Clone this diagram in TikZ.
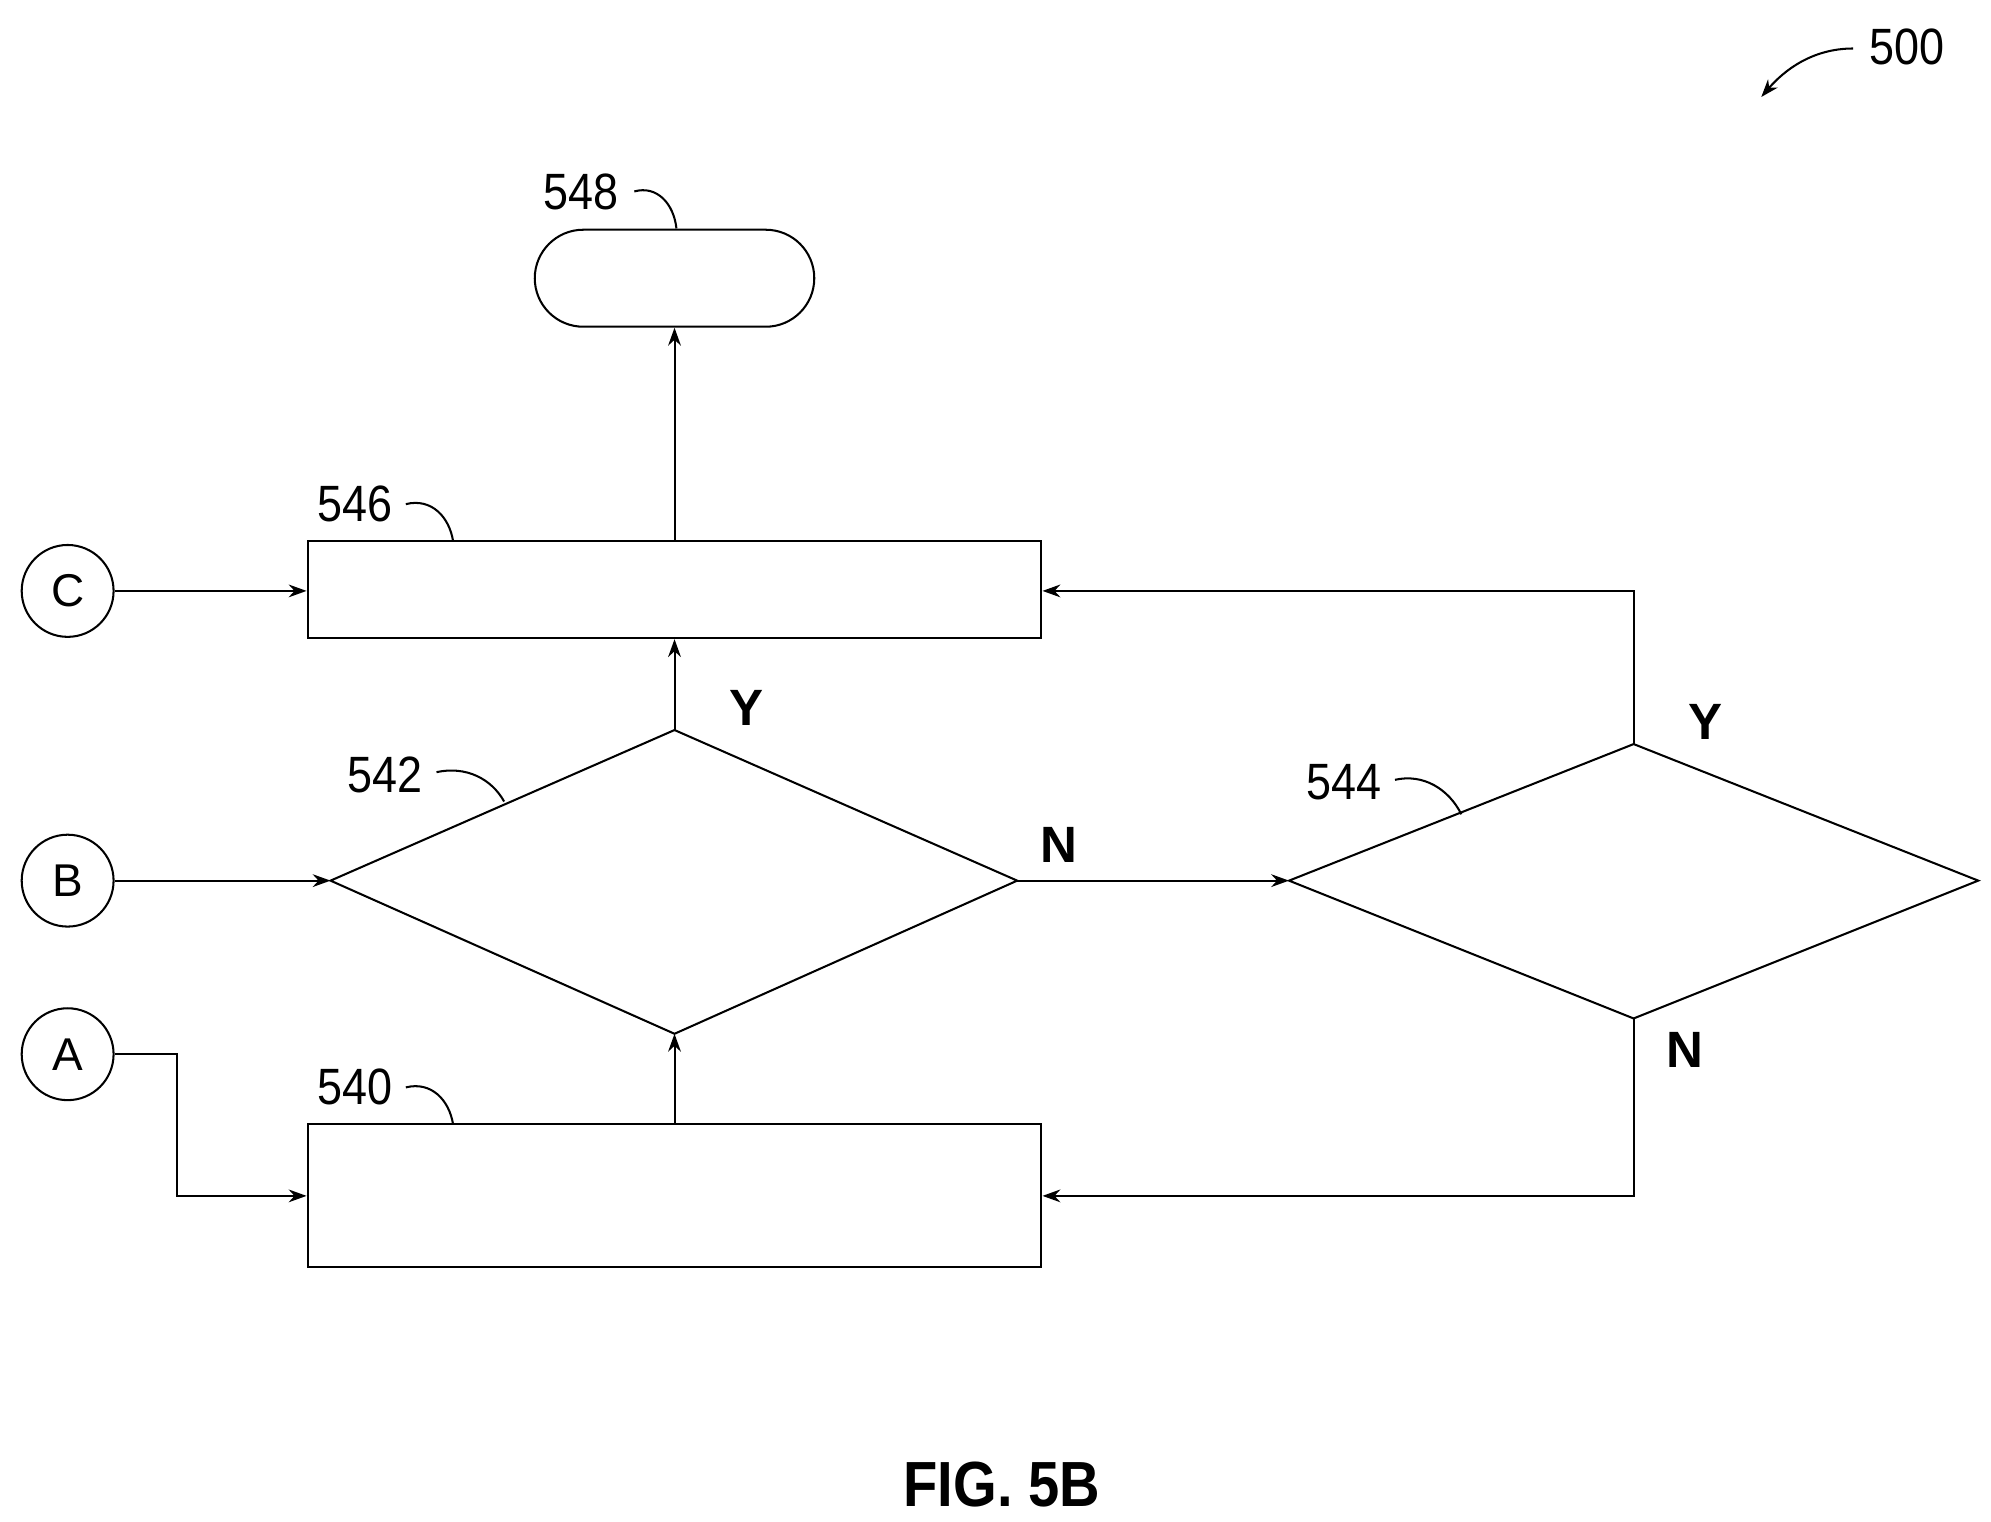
\documentclass[tikz,border=0pt]{standalone}
\usepackage{fontspec}
\setmainfont{Liberation Sans}
\usetikzlibrary{arrows.meta,shapes.geometric}
\begin{document}
\begin{tikzpicture}[x=1pt,y=-1pt,
  every path/.style={line width=1.6pt},
  ln/.style={draw,line width=1.6pt},
  arr/.style={line width=1.6pt,-{Stealth[length=14pt,width=10pt]}},
  lbl/.style={font=\fontsize{40}{40}\selectfont,xscale=0.88},
  yn/.style={font=\fontsize{40}{40}\selectfont\bfseries},
  circ/.style={draw,circle,minimum size=72pt,inner sep=0pt,font=\fontsize{36}{36}\selectfont,line width=1.6pt}]
\useasboundingbox (0,0) rectangle (1560,1192.5);
\node[draw,rounded corners=38pt,minimum width=219pt,minimum height=76pt,line width=1.6pt] (t548) at (528.5,218) {};
\node[draw,minimum width=575pt,minimum height=76pt,line width=1.6pt] (r546) at (528.5,462) {};
\node[draw,minimum width=575pt,minimum height=112pt,line width=1.6pt] (r540) at (528.5,937) {};
\coordinate (d2l) at (259,690); \coordinate (d2t) at (528.5,572);
\coordinate (d2r) at (797,690); \coordinate (d2b) at (528.5,810);
\draw (d2l)--(d2t)--(d2r)--(d2b)--cycle;
\coordinate (d4l) at (1010,690); \coordinate (d4t) at (1280,583);
\coordinate (d4r) at (1550,690); \coordinate (d4b) at (1280,798);
\draw (d4l)--(d4t)--(d4r)--(d4b)--cycle;
\node[circ] (C) at (53,463) {C};
\node[circ] (B) at (53,690) {B};
\node[circ] (A) at (53,826) {A};
\draw[arr] (C) -- (r546.west|-C);
\draw[arr] (B) -- (d2l);
\draw[arr] (A.east) -- (139,826) -- (139,937) -- (r540.west);
\draw[arr] (r540.north) -- (d2b);
\draw[arr] (d2t) -- (r546.south);
\draw[arr] (r546.north) -- (t548.south);
\draw[arr] (d2r) -- (d4l);
\draw[arr] (d4t) -- (1280,463) -- (r546.east|-C);
\draw[arr] (d4b) -- (1280,937) -- (r540.east);
\node[yn] (y1) at (585,555) {Y};
\node[yn] (n1) at (830,662) {N};
\node[yn] (y2) at (1336,566) {Y};
\node[yn] (n2) at (1320,823) {N};
\node[lbl] (l548) at (455,150) {548};
\draw (497,150) .. controls (515,145) and (528,160) .. (530,179);
\node[lbl] (l546) at (278,395) {546};
\draw (318,395) .. controls (338,390) and (352,405) .. (355,424);
\node[lbl] (l542) at (302,607) {542};
\draw (342,605) .. controls (365,600) and (385,610) .. (395,628);
\node[lbl] (l544) at (1053,613) {544};
\draw (1093,611) .. controls (1115,606) and (1135,618) .. (1145,638);
\node[lbl] (l540) at (278,852) {540};
\draw (318,852) .. controls (338,847) and (352,862) .. (355,881);
\node[lbl] (l500) at (1494,37) {500};
\draw[arr] (1452,38) .. controls (1420,38) and (1398,55) .. (1380,76);
\node[font=\fontsize{50}{50}\selectfont\bfseries,xscale=0.88] (fig) at (785,1163) {FIG. 5B};
\end{tikzpicture}
\end{document}
